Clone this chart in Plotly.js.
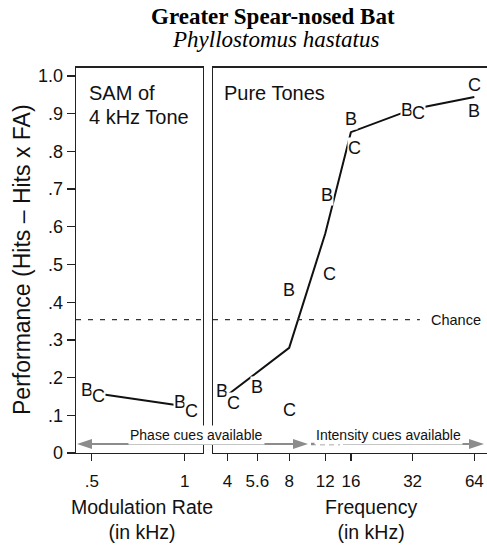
<!DOCTYPE html>
<html><head><meta charset="utf-8">
<script src="https://cdn.plot.ly/plotly-3.0.1.min.js"></script>
<style>html,body{margin:0;padding:0;background:#fff}</style>
</head><body><div id="chart" style="width:487px;height:546px"></div>
<script>
// ---- data ----
const modRate = [0.5, 1];
const modRateLabels = ['.5', '1'];
const modMean = [0.160, 0.124];
const modB = [0.166, 0.135];
const modC = [0.150, 0.111];

const freq = [4, 5.6, 8, 12, 16, 32, 64];
const freqLabels = ['4', '5.6', '8', '12', '16', '32', '64'];
const freqMean = [0.154, null, 0.279, 0.582, 0.851, 0.912, 0.944];
const freqB = [0.164, 0.175, 0.433, 0.684, 0.887, 0.909, 0.907];
const freqC = [0.133, null, 0.113, 0.474, 0.810, 0.902, 0.975];

const yTicks = [0, 0.1, 0.2, 0.3, 0.4, 0.5, 0.6, 0.7, 0.8, 0.9, 1.0];
const yTickLabels = ['0', '.1', '.2', '.3', '.4', '.5', '.6', '.7', '.8', '.9', '1.0'];
const chanceLevel = 0.354;

// ---- style (letter nudges in px) ----
const modShiftB = [-5, -5], modShiftC = [7, 7];
const freqShiftB = [-5, 0, 0, 2, 0, -6, 0], freqShiftC = [6, 0, 0, 4, 4, 6, 0];

const SANS = 'Liberation Sans, Arial, sans-serif';
const SERIF = 'Liberation Serif, Times New Roman, serif';
const INK = '#111';
const GREY = '#8c8c8c';

const traces = [
  {x: modRate, y: modMean, xaxis: 'x', yaxis: 'y', mode: 'lines',
   line: {color: INK, width: 2}, hoverinfo: 'skip'},
  {x: freq, y: freqMean, xaxis: 'x2', yaxis: 'y2', mode: 'lines', connectgaps: true,
   line: {color: INK, width: 2}, hoverinfo: 'skip'}
];

const ann = [];
function letter(xv, yv, xref, yref, txt, sh) {
  if (yv === null || yv === undefined) return;
  ann.push({x: xv, y: yv, xref: xref, yref: yref, text: txt, showarrow: false,
    xanchor: 'center', yanchor: 'middle',
    xshift: sh, font: {family: SANS, size: 18, color: INK}, bgcolor: '#fff', borderpad: 0});
}
modRate.forEach((m, i) => { letter(m, modB[i], 'x', 'y', 'B', modShiftB[i]); letter(m, modC[i], 'x', 'y', 'C', modShiftC[i]); });
freq.forEach((f, i) => { letter(Math.log10(f), freqB[i], 'x2', 'y2', 'B', freqShiftB[i]); letter(Math.log10(f), freqC[i], 'x2', 'y2', 'C', freqShiftC[i]); });

const W = 487, H = 546;
const px = v => v / W, py = v => (H - v) / H;
function label(x, y, text, size, extra) {
  return Object.assign({x: px(x), y: py(y), xref: 'paper', yref: 'paper', text: text, showarrow: false,
    xanchor: 'center', yanchor: 'middle', font: {family: SANS, size: size, color: INK}}, extra || {});
}

// titles and labels
ann.push(
  label(273, 16, '<b>Greater Spear-nosed Bat</b>', 23, {font: {family: SERIF, size: 23, color: '#000'}}),
  label(275, 40, '<i>Phyllostomus hastatus</i>', 23, {font: {family: SERIF, size: 23, color: '#000'}}),
  label(22, 260, 'Performance (Hits \u2013 Hits x FA)', 23, {textangle: -90}),
  label(87, 93, 'SAM of', 20, {xanchor: 'left'}),
  label(87, 117, '4 kHz Tone', 20, {xanchor: 'left'}),
  label(222, 93, 'Pure Tones', 20, {xanchor: 'left'}),
  label(142, 519, 'Modulation Rate<br>(in kHz)', 19.5),
  label(371, 519, 'Frequency<br>(in kHz)', 19.5),
  label(196, 435, 'Phase cues available', 14, {bgcolor: '#fff', borderpad: 1}),
  label(388, 435, 'Intensity cues available', 14, {bgcolor: '#fff', borderpad: 1}),
  {x: px(429), y: chanceLevel, xref: 'paper', yref: 'y2', xanchor: 'left', yanchor: 'middle', text: 'Chance', showarrow: false,
   font: {family: SANS, size: 14.5, color: INK}}
);

const arrowY = py(444);
function head(xTip, dir) {
  return {type: 'path', xref: 'paper', yref: 'paper', xsizemode: 'pixel', ysizemode: 'pixel',
    xanchor: px(xTip), yanchor: arrowY, path: `M 0 0 L ${-15*dir} 5 L ${-15*dir} -5 Z`,
    fillcolor: GREY, line: {width: 0}, layer: 'above'};
}
const shapes = [
  {type: 'line', xref: 'x domain', yref: 'y', x0: 0, x1: 1, y0: chanceLevel, y1: chanceLevel,
   line: {color: '#333', width: 1.2, dash: '5px,7px'}},
  {type: 'line', xref: 'x2 domain', yref: 'y2', x0: 0, x1: 0.755, y0: chanceLevel, y1: chanceLevel,
   line: {color: '#333', width: 1.2, dash: '5px,7px'}},
  {type: 'line', xref: 'paper', yref: 'paper', x0: px(85), x1: px(300), y0: arrowY, y1: arrowY,
   line: {color: GREY, width: 2}, layer: 'above'},
  head(77, -1), head(308, 1),
  {type: 'line', xref: 'paper', yref: 'paper', x0: px(311), x1: px(340), y0: arrowY, y1: arrowY,
   line: {color: GREY, width: 2.5, dash: '5px,4px'}, layer: 'above'},
  {type: 'line', xref: 'paper', yref: 'paper', x0: px(343), x1: px(476), y0: arrowY, y1: arrowY,
   line: {color: GREY, width: 2}, layer: 'above'},
  head(484, 1)
];

const axisLine = {showline: true, linecolor: '#222', linewidth: 1.3, zeroline: false, showgrid: false};
const layout = {
  width: W, height: H, margin: {l: 0, r: 0, t: 0, b: 0},
  paper_bgcolor: '#fff', plot_bgcolor: '#fff', showlegend: false,
  font: {family: SANS, color: INK},
  xaxis: Object.assign({}, axisLine, {domain: [76/W, 203/W], range: [0.415, 1.099], mirror: true,
    tickvals: modRate, ticktext: modRateLabels, ticks: 'outside', ticklen: 7, tickwidth: 1.3, tickcolor: '#222',
    ticklabelstandoff: 5, tickfont: {size: 17, family: SANS, color: INK}}),
  yaxis: Object.assign({}, axisLine, {domain: [(H-453)/H, (H-67.5)/H], range: [0, 1.0225], mirror: true,
    tickvals: yTicks, ticktext: yTickLabels, ticks: 'outside', ticklen: 8, tickwidth: 1.3, tickcolor: '#222',
    tickfont: {size: 18, family: SANS, color: INK}}),
  xaxis2: Object.assign({}, axisLine, {domain: [213/W, 1], type: 'log', range: [0.5316, 1.868], mirror: true, anchor: 'y2',
    tickvals: freq, ticktext: freqLabels, ticks: 'outside', ticklen: 7, tickwidth: 1.3, tickcolor: '#222',
    ticklabelstandoff: 5, tickfont: {size: 17, family: SANS, color: INK}}),
  yaxis2: Object.assign({}, axisLine, {domain: [(H-453)/H, (H-67.5)/H], range: [0, 1.0225], anchor: 'x2',
    showticklabels: false, ticks: ''}),
  shapes: shapes,
  annotations: ann
};
Plotly.newPlot('chart', traces, layout, {staticPlot: true, displayModeBar: false});
</script></body></html>
